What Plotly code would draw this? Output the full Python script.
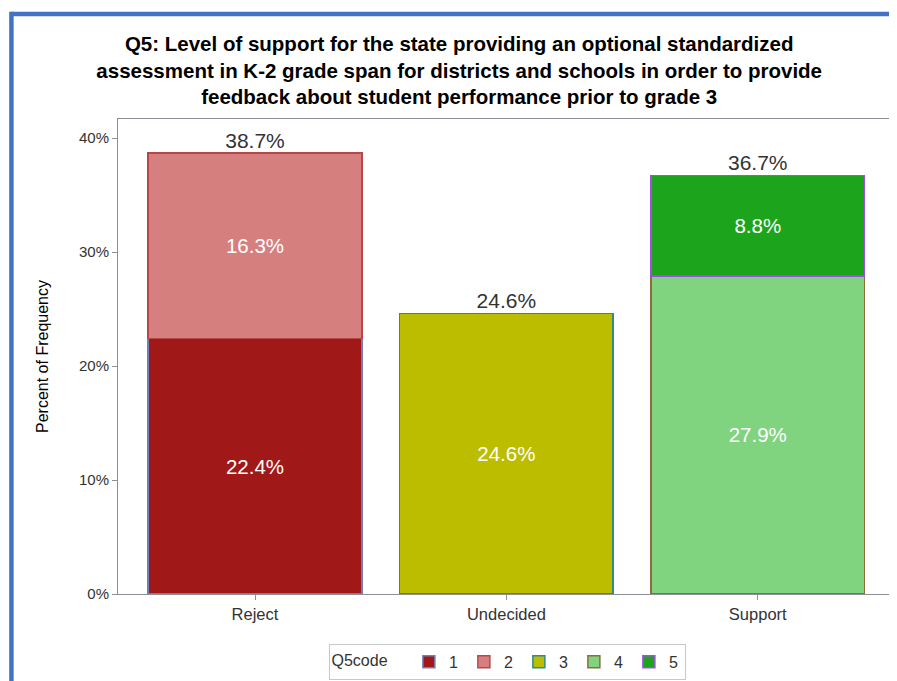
import plotly.graph_objects as go

# Data
categories = ["Reject", "Undecided", "Support"]
codes = ["1", "2", "3", "4", "5"]
code_values = {
    "1": [22.4, None, None],
    "2": [16.3, None, None],
    "3": [None, 24.6, None],
    "4": [None, None, 27.9],
    "5": [None, None, 8.8],
}
totals = [38.7, 24.6, 36.7]
y_ticks = [0, 10, 20, 30, 40]

fill_colors = {"1": "#A01818", "2": "#D67F7F", "3": "#BDBD00", "4": "#80D480", "5": "#1CA51C"}
line_colors = {"1": "#6F7FB8", "2": "#B84848", "3": "#2E8C8C", "4": "#8C6E3C", "5": "#A050E0"}

FONT = "Liberation Sans, Arial, sans-serif"

fig = go.Figure()

for c in codes:
    vals = code_values[c]
    fig.add_trace(go.Bar(
        x=categories,
        y=vals,
        name=c,
        width=0.85,
        marker=dict(color=fill_colors[c], line=dict(color=line_colors[c], width=1.5)),
        text=[f"{v:.1f}%" if v is not None else "" for v in vals],
        textposition="inside",
        insidetextanchor="middle",
        constraintext="none",
        textfont=dict(size=20.5, color="white", family=FONT),
        hovertemplate="%{x}: %{y:.1f}%<extra>" + c + "</extra>",
    ))

# totals above each bar
fig.add_trace(go.Scatter(
    x=categories,
    y=totals,
    mode="text",
    text=[f"{t:.1f}%" for t in totals],
    textposition="top center",
    textfont=dict(size=21, color="#333333", family=FONT),
    showlegend=False,
    hoverinfo="skip",
))

fig.update_layout(
    width=897,
    height=681,
    barmode="stack",
    paper_bgcolor="white",
    plot_bgcolor="white",
    font=dict(family=FONT, color="#333333"),
    margin=dict(l=110, r=9, t=111, b=88),
    title=dict(
        text="<b>Q5: Level of support for the state providing an optional standardized<br>"
             "assessment in K-2 grade span for districts and schools in order to provide<br>"
             "feedback about student performance prior to grade 3</b>",
        font=dict(size=20.5, color="black", family=FONT),
        x=0.503, xanchor="center", xref="container",
        y=0.937, yanchor="top", yref="container",
    ),
    legend=dict(
        orientation="h",
        traceorder="normal",
        title=dict(text="Q5code   ", font=dict(size=16, color="#333333")),
        x=0.5, xanchor="center",
        y=-0.105, yanchor="top",
        bordercolor="#C8C8C8", borderwidth=1,
        font=dict(size=16, color="#333333"),
        itemwidth=30,
        entrywidth=10, entrywidthmode="pixels",
        tracegroupgap=0,
    ),
    showlegend=True,
)

fig.update_xaxes(
    automargin=False,
    range=[-0.545, 2.55],
    showline=True, linecolor="#8C9096", linewidth=1, mirror=True,
    ticks="outside", ticklen=5, tickcolor="#8C9096",
    tickfont=dict(size=16.5, color="#333333"),
    showgrid=False,
)
fig.update_yaxes(
    automargin=False,
    range=[0, 41.67],
    tickvals=y_ticks,
    ticktext=[f"{v}%" for v in y_ticks],
    showline=True, linecolor="#8C9096", linewidth=1, mirror=True,
    ticks="outside", ticklen=5, tickcolor="#8C9096",
    tickfont=dict(size=15, color="#333333"),
    showgrid=False, zeroline=False,
    title=dict(text="Percent of Frequency", font=dict(size=16, color="black"), standoff=26),
)

# blue frame around the page (top and left edges)
fig.add_shape(type="line", xref="paper", yref="paper",
              x0=-0.137, x1=1.05, y0=1.221, y1=1.221,
              line=dict(color="#4472C4", width=4.5))
fig.add_shape(type="line", xref="paper", yref="paper",
              x0=-0.137, x1=-0.137, y0=1.226, y1=-0.2,
              line=dict(color="#4472C4", width=4.5))

fig.write_html("out.html")
